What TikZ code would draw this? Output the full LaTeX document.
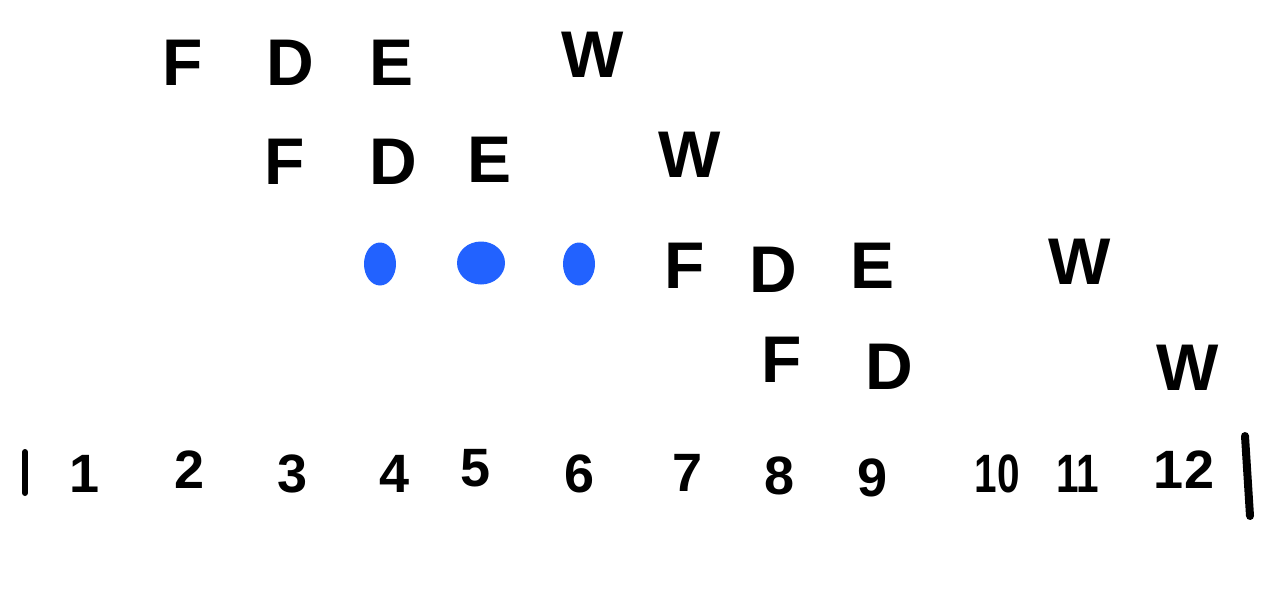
\documentclass[tikz,border=0pt]{standalone}
\usepackage{fontspec}
\setmainfont{Liberation Sans}
\usetikzlibrary{shapes.geometric}
\definecolor{dotblue}{HTML}{2262FF}
\begin{document}
\begin{tikzpicture}[x=1pt,y=-1pt,
  stage/.style={font=\fontsize{66}{70}\selectfont\bfseries, inner sep=0pt, text=black},
  num/.style={font=\fontsize{54}{60}\selectfont\bfseries, inner sep=0pt, text=black},
  narrow/.style={xscale=0.75},
  bubble/.style={fill=dotblue, draw=none, ellipse, inner sep=0pt}]
\useasboundingbox (0,0) rectangle (1276,615);
% row 1
\node[stage] (f1) at (183,63) {F};
\node[stage] (d1) at (290,63) {D};
\node[stage] (e1) at (392,63) {E};
\node[stage] (w1) at (593,55) {W};
% row 2
\node[stage] (f2) at (285,162) {F};
\node[stage] (d2) at (393,162) {D};
\node[stage] (e2) at (490,160) {E};
\node[stage] (w2) at (690,155) {W};
% row 3
\node[bubble, minimum width=32pt, minimum height=43pt] (b1) at (380,264) {};
\node[bubble, minimum width=48pt, minimum height=43pt] (b2) at (481,263) {};
\node[bubble, minimum width=32pt, minimum height=43pt] (b3) at (579,264) {};
\node[stage] (f3) at (685,266) {F};
\node[stage] (d3) at (773,270) {D};
\node[stage] (e3) at (872,266) {E};
\node[stage] (w3) at (1080,262) {W};
% row 4
\node[stage] (f4) at (782,360) {F};
\node[stage] (d4) at (889,367) {D};
\node[stage] (w4) at (1188,368) {W};
% cycle numbers
\node[num] (n1) at (85,474) {1};
\node[num] (n2) at (190,470) {2};
\node[num] (n3) at (293,474) {3};
\node[num] (n4) at (395,474) {4};
\node[num] (n5) at (476,468) {5};
\node[num] (n6) at (580,474) {6};
\node[num] (n7) at (688,473) {7};
\node[num] (n8) at (780,476) {8};
\node[num] (n9) at (873,478) {9};
\node[num, narrow] (n10) at (997,474) {10};
\node[num, narrow] (n11) at (1078,474) {11};
\node[num] (n12) at (1184,470) {12};
% bars
\coordinate (s1) at (25,452);
\coordinate (s2) at (25,493);
\coordinate (t1) at (1245,436);
\coordinate (t2) at (1250,516);
\draw[line width=6pt, line cap=round] (s1) -- (s2);
\draw[line width=8pt, line cap=round] (t1) -- (t2);
\end{tikzpicture}
\end{document}
